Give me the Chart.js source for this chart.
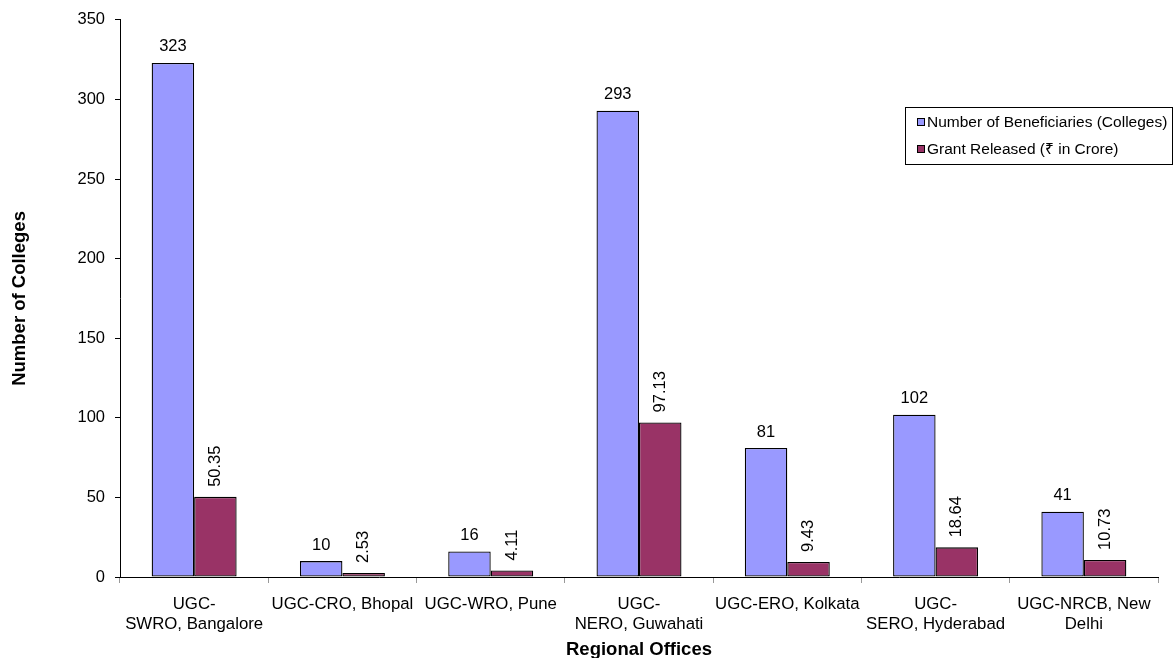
<!DOCTYPE html>
<html>
<head>
<meta charset="utf-8">
<script src="https://cdn.jsdelivr.net/npm/chart.js@4/dist/chart.umd.min.js"></script>
<style>
html,body{margin:0;padding:0;background:#fff;}
canvas{display:block;}
</style>
</head>
<body>
<canvas id="c" width="1176" height="658"></canvas>
<script>
const categories = [["UGC-","SWRO, Bangalore"], "UGC-CRO, Bhopal", "UGC-WRO, Pune", ["UGC-","NERO, Guwahati"], "UGC-ERO, Kolkata", ["UGC-","SERO, Hyderabad"], ["UGC-NRCB, New","Delhi"]];
const beneficiaries = [323, 10, 16, 293, 81, 102, 41];
const grants = [50.35, 2.53, 4.11, 97.13, 9.43, 18.64, 10.73];
const grantLabels = ["50.35", "2.53", "4.11", "97.13", "9.43", "18.64", "10.73"];
const seriesNames = ["Number of Beneficiaries (Colleges)", "Grant Released (\u20B9 in Crore)"];
const yTitle = "Number of Colleges";
const xTitle = "Regional Offices";
const yMin = 0, yMax = 350, yStep = 50;

const FONT = "'Liberation Sans', Arial, 'Noto Sans', sans-serif";

const labelPlugin = {
  id: 'valueLabels',
  afterDatasetsDraw(chart) {
    const ctx = chart.ctx;
    ctx.save();
    ctx.fillStyle = '#000';
    ctx.font = "16.5px " + FONT;
    const m0 = chart.getDatasetMeta(0);
    m0.data.forEach((bar, i) => {
      ctx.textAlign = 'center';
      ctx.textBaseline = 'alphabetic';
      ctx.fillText(String(beneficiaries[i]), bar.x, bar.y - 11.5);
    });
    const m1 = chart.getDatasetMeta(1);
    m1.data.forEach((bar, i) => {
      ctx.save();
      ctx.translate(bar.x, bar.y - 10);
      ctx.rotate(-Math.PI / 2);
      ctx.textAlign = 'left';
      ctx.textBaseline = 'middle';
      ctx.fillText(grantLabels[i], 0, 0);
      ctx.restore();
    });
    ctx.restore();
  }
};

const legendPlugin = {
  id: 'boxLegend',
  afterDraw(chart) {
    const ctx = chart.ctx;
    ctx.save();
    const x = 905, y = 107, w = 267, h = 57;
    ctx.fillStyle = '#fff';
    ctx.fillRect(x, y, w, h);
    ctx.strokeStyle = '#000';
    ctx.lineWidth = 1;
    ctx.strokeRect(x + 0.5, y + 0.5, w, h);
    ctx.font = "15.5px " + FONT;
    ctx.textBaseline = 'middle';
    ctx.textAlign = 'left';
    const rows = [122, 149];
    chart.data.datasets.forEach((ds, i) => {
      const cy = rows[i];
      ctx.fillStyle = ds.backgroundColor;
      ctx.fillRect(917, cy - 4, 8, 8);
      ctx.strokeStyle = '#000';
      ctx.strokeRect(917.5, cy - 3.5, 7, 7);
      ctx.fillStyle = '#000';
      ctx.fillText(ds.label, 927, cy + 1);
    });
    ctx.restore();
  }
};

new Chart(document.getElementById('c'), {
  type: 'bar',
  data: {
    labels: categories,
    datasets: [
      { label: seriesNames[0], data: beneficiaries, backgroundColor: '#9999FF', borderColor: '#000', borderWidth: 1.3, borderSkipped: false },
      { label: seriesNames[1], data: grants, backgroundColor: '#993366', borderColor: '#000', borderWidth: 1.3, borderSkipped: false }
    ]
  },
  options: {
    responsive: false,
    animation: false,
    devicePixelRatio: 1,
    categoryPercentage: 0.573,
    barPercentage: 1.0,
    layout: { padding: { top: 17, right: 18, left: 0, bottom: 0 } },
    plugins: {
      legend: { display: false },
      tooltip: { enabled: false }
    },
    scales: {
      x: {
        grid: { display: true, drawOnChartArea: false, drawTicks: true, tickLength: 6, color: '#999', offset: true },
        border: { display: true, color: '#000', width: 1 },
        ticks: { color: '#000', font: { family: FONT, size: 16.8 }, padding: 11, maxRotation: 0, autoSkip: false },
        title: { display: true, text: xTitle, color: '#000', font: { family: FONT, size: 18.5, weight: 'bold' }, padding: { top: 0, bottom: -3.5 } },
        afterFit(scale) { scale.height = 81; }
      },
      y: {
        min: yMin, max: yMax,
        grid: { display: true, drawOnChartArea: false, drawTicks: true, tickLength: 5, color: '#000' },
        border: { display: true, color: '#000', width: 1 },
        ticks: { stepSize: yStep, color: '#000', font: { family: FONT, size: 16.5 }, padding: 10 },
        title: { display: true, text: yTitle, color: '#000', font: { family: FONT, size: 18.5, weight: 'bold' }, padding: { top: 9, bottom: 0 } },
        afterFit(scale) { scale.width = 120; }
      }
    }
  },
  plugins: [labelPlugin, legendPlugin]
});
</script>
</body>
</html>
